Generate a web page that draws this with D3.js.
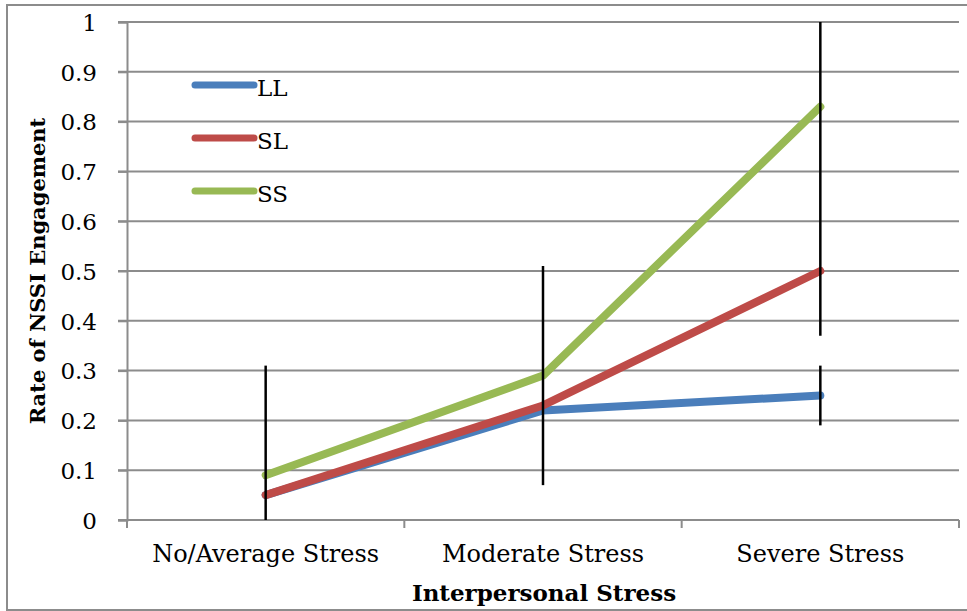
<!DOCTYPE html>
<html><head><meta charset="utf-8">
<script src="https://cdn.jsdelivr.net/npm/d3@7"></script>
<style>body{margin:0;background:#fff;overflow:hidden}svg{display:block}</style>
</head><body>
<script>
const categories = ["No/Average Stress", "Moderate Stress", "Severe Stress"];
const seriesNames = ["LL", "SL", "SS"];
const LL = [0.05, 0.22, 0.25];
const SL = [0.05, 0.23, 0.50];
const SS = [0.09, 0.29, 0.83];
const errorBars = [
  {cat: "No/Average Stress", low: 0.0, high: 0.31},
  {cat: "Moderate Stress", low: 0.07, high: 0.51},
  {cat: "Severe Stress", low: 0.37, high: 1.0},
  {cat: "Severe Stress", low: 0.19, high: 0.31}
];
const yTicks = [0, 0.1, 0.2, 0.3, 0.4, 0.5, 0.6, 0.7, 0.8, 0.9, 1];
const colors = {LL: "#4a7ebb", SL: "#be4b48", SS: "#98b954"};
const series = [{name: "LL", values: LL}, {name: "SL", values: SL}, {name: "SS", values: SS}];

const W = 967, H = 611;
const mLeft = 127, mRight = 959, mTop = 22, mBottom = 520;
const font = "'DejaVu Serif', serif";

const svg = d3.select("body").append("svg").attr("width", W).attr("height", H);

// outer frame
svg.append("path").attr("d", `M${W+5},5 H7 V610 H${W+5}`)
  .attr("fill", "none").attr("stroke", "#8c8c8c").attr("stroke-width", 2);

const x = d3.scaleBand().domain(categories).range([mLeft, mRight]);
const y = d3.scaleLinear().domain([0, 1]).range([mBottom, mTop]);

// gridlines
svg.append("g").selectAll("line").data(yTicks.filter(d => d > 0)).join("line")
  .attr("x1", mLeft - 9).attr("x2", mRight).attr("y1", d => y(d)).attr("y2", d => y(d))
  .attr("stroke", "#8c8c8c").attr("stroke-width", 2);

// y axis
const yAxis = svg.append("g").attr("transform", `translate(${mLeft},0)`)
  .call(d3.axisLeft(y).tickValues(yTicks).tickSize(9).tickPadding(21).tickFormat(d => d3.format("")(d)));
yAxis.select(".domain").attr("stroke", "#8c8c8c").attr("stroke-width", 2);
yAxis.selectAll(".tick line").attr("stroke", "#8c8c8c").attr("stroke-width", 2);
yAxis.selectAll("text").attr("font-family", font).attr("font-size", 23).attr("fill", "#000").attr("dy", "0.36em");

// x axis
const xAxis = svg.append("g").attr("transform", `translate(0,${mBottom})`)
  .call(d3.axisBottom(x).tickSize(0).tickPadding(25));
xAxis.select(".domain").remove();
xAxis.selectAll("text").attr("font-family", font).attr("font-size", 24).attr("fill", "#000");
svg.append("line").attr("x1", mLeft - 9).attr("x2", mRight).attr("y1", mBottom).attr("y2", mBottom)
  .attr("stroke", "#8c8c8c").attr("stroke-width", 2);
const bounds = [...categories.map(c => x(c)), x(categories[categories.length - 1]) + x.bandwidth()];
svg.append("g").selectAll("line").data(bounds).join("line")
  .attr("x1", d => d).attr("x2", d => d).attr("y1", mBottom).attr("y2", mBottom + 8)
  .attr("stroke", "#8c8c8c").attr("stroke-width", 2);

const cx = c => x(c) + x.bandwidth() / 2;

// series lines
const line = d3.line().x((d, i) => cx(categories[i])).y(d => y(d));
svg.append("g").selectAll("path").data(series).join("path")
  .attr("d", d => line(d.values)).attr("fill", "none")
  .attr("stroke", d => colors[d.name]).attr("stroke-width", 8)
  .attr("stroke-linecap", "round").attr("stroke-linejoin", "round");

// error bars
svg.append("g").selectAll("line").data(errorBars).join("line")
  .attr("x1", d => cx(d.cat)).attr("x2", d => cx(d.cat))
  .attr("y1", d => y(d.low)).attr("y2", d => y(d.high))
  .attr("stroke", "#000").attr("stroke-width", 2.5);

// legend
const lg = svg.append("g");
const legendY = d3.scalePoint().domain(seriesNames).range([85, 191]);
seriesNames.forEach(n => {
  lg.append("line").attr("x1", 195).attr("x2", 254).attr("y1", legendY(n)).attr("y2", legendY(n))
    .attr("stroke", colors[n]).attr("stroke-width", 7).attr("stroke-linecap", "round");
  lg.append("text").attr("x", 257).attr("y", legendY(n) + 11).text(n)
    .attr("font-family", font).attr("font-size", 23).attr("fill", "#000");
});

// axis titles
svg.append("text").attr("x", (mLeft + mRight) / 2 + 1).attr("y", 601).attr("text-anchor", "middle")
  .attr("font-family", font).attr("font-weight", "bold").attr("font-size", 23).text("Interpersonal Stress");
svg.append("text").attr("transform", `translate(45,${(mTop + mBottom) / 2}) rotate(-90)`)
  .attr("text-anchor", "middle").attr("font-family", font).attr("font-weight", "bold")
  .attr("font-size", 21).text("Rate of NSSI Engagement");
</script>
</body></html>
